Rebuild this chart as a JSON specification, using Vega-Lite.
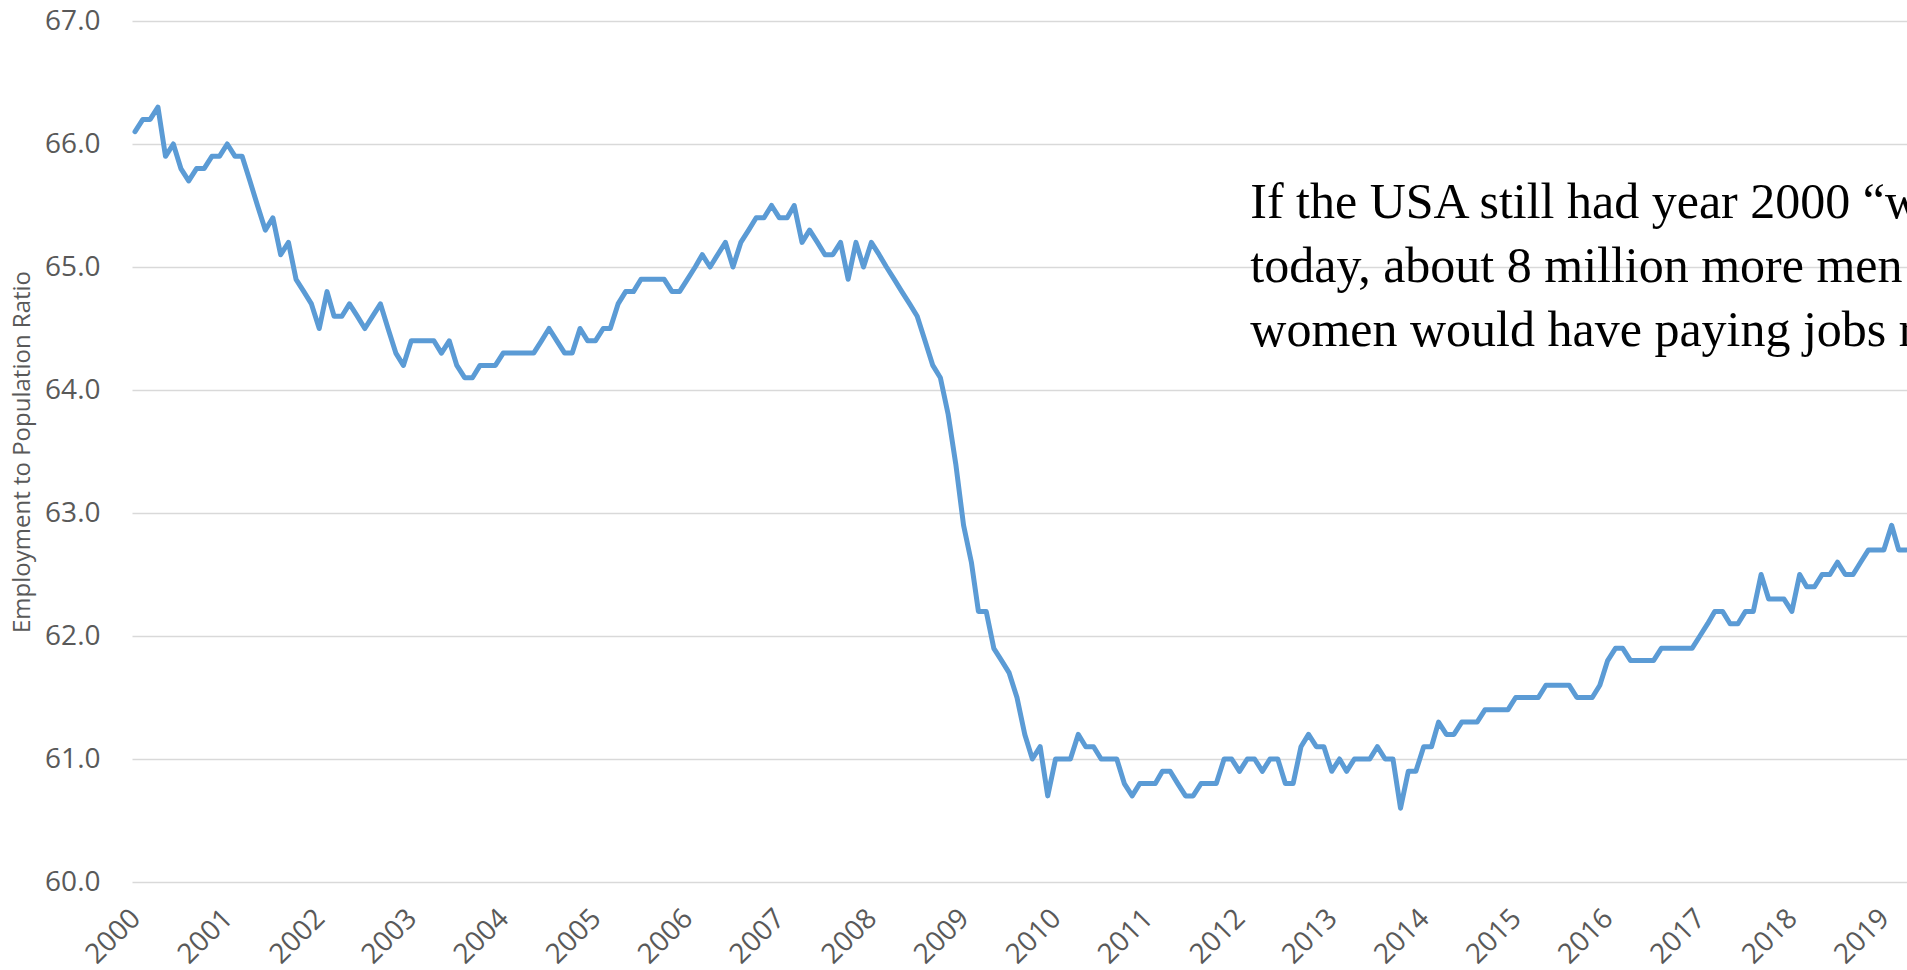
{
  "$schema": "https://vega.github.io/schema/vega-lite/v6.json",
  "autosize": {"type": "none"},
  "width": 1775,
  "height": 861,
  "padding": {"left": 132, "top": 21, "right": 0, "bottom": 88},
  "background": "white",
  "config": {"view": {"stroke": null}},
  "datasets": {
    "epop": [
      {"date":"2000-01-01","v":66.1},{"date":"2000-02-01","v":66.2},{"date":"2000-03-01","v":66.2},{"date":"2000-04-01","v":66.3},{"date":"2000-05-01","v":65.9},{"date":"2000-06-01","v":66.0},{"date":"2000-07-01","v":65.8},{"date":"2000-08-01","v":65.7},{"date":"2000-09-01","v":65.8},{"date":"2000-10-01","v":65.8},{"date":"2000-11-01","v":65.9},{"date":"2000-12-01","v":65.9},
      {"date":"2001-01-01","v":66.0},{"date":"2001-02-01","v":65.9},{"date":"2001-03-01","v":65.9},{"date":"2001-04-01","v":65.7},{"date":"2001-05-01","v":65.5},{"date":"2001-06-01","v":65.3},{"date":"2001-07-01","v":65.4},{"date":"2001-08-01","v":65.1},{"date":"2001-09-01","v":65.2},{"date":"2001-10-01","v":64.9},{"date":"2001-11-01","v":64.8},{"date":"2001-12-01","v":64.7},
      {"date":"2002-01-01","v":64.5},{"date":"2002-02-01","v":64.8},{"date":"2002-03-01","v":64.6},{"date":"2002-04-01","v":64.6},{"date":"2002-05-01","v":64.7},{"date":"2002-06-01","v":64.6},{"date":"2002-07-01","v":64.5},{"date":"2002-08-01","v":64.6},{"date":"2002-09-01","v":64.7},{"date":"2002-10-01","v":64.5},{"date":"2002-11-01","v":64.3},{"date":"2002-12-01","v":64.2},
      {"date":"2003-01-01","v":64.4},{"date":"2003-02-01","v":64.4},{"date":"2003-03-01","v":64.4},{"date":"2003-04-01","v":64.4},{"date":"2003-05-01","v":64.3},{"date":"2003-06-01","v":64.4},{"date":"2003-07-01","v":64.2},{"date":"2003-08-01","v":64.1},{"date":"2003-09-01","v":64.1},{"date":"2003-10-01","v":64.2},{"date":"2003-11-01","v":64.2},{"date":"2003-12-01","v":64.2},
      {"date":"2004-01-01","v":64.3},{"date":"2004-02-01","v":64.3},{"date":"2004-03-01","v":64.3},{"date":"2004-04-01","v":64.3},{"date":"2004-05-01","v":64.3},{"date":"2004-06-01","v":64.4},{"date":"2004-07-01","v":64.5},{"date":"2004-08-01","v":64.4},{"date":"2004-09-01","v":64.3},{"date":"2004-10-01","v":64.3},{"date":"2004-11-01","v":64.5},{"date":"2004-12-01","v":64.4},
      {"date":"2005-01-01","v":64.4},{"date":"2005-02-01","v":64.5},{"date":"2005-03-01","v":64.5},{"date":"2005-04-01","v":64.7},{"date":"2005-05-01","v":64.8},{"date":"2005-06-01","v":64.8},{"date":"2005-07-01","v":64.9},{"date":"2005-08-01","v":64.9},{"date":"2005-09-01","v":64.9},{"date":"2005-10-01","v":64.9},{"date":"2005-11-01","v":64.8},{"date":"2005-12-01","v":64.8},
      {"date":"2006-01-01","v":64.9},{"date":"2006-02-01","v":65.0},{"date":"2006-03-01","v":65.1},{"date":"2006-04-01","v":65.0},{"date":"2006-05-01","v":65.1},{"date":"2006-06-01","v":65.2},{"date":"2006-07-01","v":65.0},{"date":"2006-08-01","v":65.2},{"date":"2006-09-01","v":65.3},{"date":"2006-10-01","v":65.4},{"date":"2006-11-01","v":65.4},{"date":"2006-12-01","v":65.5},
      {"date":"2007-01-01","v":65.4},{"date":"2007-02-01","v":65.4},{"date":"2007-03-01","v":65.5},{"date":"2007-04-01","v":65.2},{"date":"2007-05-01","v":65.3},{"date":"2007-06-01","v":65.2},{"date":"2007-07-01","v":65.1},{"date":"2007-08-01","v":65.1},{"date":"2007-09-01","v":65.2},{"date":"2007-10-01","v":64.9},{"date":"2007-11-01","v":65.2},{"date":"2007-12-01","v":65.0},
      {"date":"2008-01-01","v":65.2},{"date":"2008-02-01","v":65.1},{"date":"2008-03-01","v":65.0},{"date":"2008-04-01","v":64.9},{"date":"2008-05-01","v":64.8},{"date":"2008-06-01","v":64.7},{"date":"2008-07-01","v":64.6},{"date":"2008-08-01","v":64.4},{"date":"2008-09-01","v":64.2},{"date":"2008-10-01","v":64.1},{"date":"2008-11-01","v":63.8},{"date":"2008-12-01","v":63.4},
      {"date":"2009-01-01","v":62.9},{"date":"2009-02-01","v":62.6},{"date":"2009-03-01","v":62.2},{"date":"2009-04-01","v":62.2},{"date":"2009-05-01","v":61.9},{"date":"2009-06-01","v":61.8},{"date":"2009-07-01","v":61.7},{"date":"2009-08-01","v":61.5},{"date":"2009-09-01","v":61.2},{"date":"2009-10-01","v":61.0},{"date":"2009-11-01","v":61.1},{"date":"2009-12-01","v":60.7},
      {"date":"2010-01-01","v":61.0},{"date":"2010-02-01","v":61.0},{"date":"2010-03-01","v":61.0},{"date":"2010-04-01","v":61.2},{"date":"2010-05-01","v":61.1},{"date":"2010-06-01","v":61.1},{"date":"2010-07-01","v":61.0},{"date":"2010-08-01","v":61.0},{"date":"2010-09-01","v":61.0},{"date":"2010-10-01","v":60.8},{"date":"2010-11-01","v":60.7},{"date":"2010-12-01","v":60.8},
      {"date":"2011-01-01","v":60.8},{"date":"2011-02-01","v":60.8},{"date":"2011-03-01","v":60.9},{"date":"2011-04-01","v":60.9},{"date":"2011-05-01","v":60.8},{"date":"2011-06-01","v":60.7},{"date":"2011-07-01","v":60.7},{"date":"2011-08-01","v":60.8},{"date":"2011-09-01","v":60.8},{"date":"2011-10-01","v":60.8},{"date":"2011-11-01","v":61.0},{"date":"2011-12-01","v":61.0},
      {"date":"2012-01-01","v":60.9},{"date":"2012-02-01","v":61.0},{"date":"2012-03-01","v":61.0},{"date":"2012-04-01","v":60.9},{"date":"2012-05-01","v":61.0},{"date":"2012-06-01","v":61.0},{"date":"2012-07-01","v":60.8},{"date":"2012-08-01","v":60.8},{"date":"2012-09-01","v":61.1},{"date":"2012-10-01","v":61.2},{"date":"2012-11-01","v":61.1},{"date":"2012-12-01","v":61.1},
      {"date":"2013-01-01","v":60.9},{"date":"2013-02-01","v":61.0},{"date":"2013-03-01","v":60.9},{"date":"2013-04-01","v":61.0},{"date":"2013-05-01","v":61.0},{"date":"2013-06-01","v":61.0},{"date":"2013-07-01","v":61.1},{"date":"2013-08-01","v":61.0},{"date":"2013-09-01","v":61.0},{"date":"2013-10-01","v":60.6},{"date":"2013-11-01","v":60.9},{"date":"2013-12-01","v":60.9},
      {"date":"2014-01-01","v":61.1},{"date":"2014-02-01","v":61.1},{"date":"2014-03-01","v":61.3},{"date":"2014-04-01","v":61.2},{"date":"2014-05-01","v":61.2},{"date":"2014-06-01","v":61.3},{"date":"2014-07-01","v":61.3},{"date":"2014-08-01","v":61.3},{"date":"2014-09-01","v":61.4},{"date":"2014-10-01","v":61.4},{"date":"2014-11-01","v":61.4},{"date":"2014-12-01","v":61.4},
      {"date":"2015-01-01","v":61.5},{"date":"2015-02-01","v":61.5},{"date":"2015-03-01","v":61.5},{"date":"2015-04-01","v":61.5},{"date":"2015-05-01","v":61.6},{"date":"2015-06-01","v":61.6},{"date":"2015-07-01","v":61.6},{"date":"2015-08-01","v":61.6},{"date":"2015-09-01","v":61.5},{"date":"2015-10-01","v":61.5},{"date":"2015-11-01","v":61.5},{"date":"2015-12-01","v":61.6},
      {"date":"2016-01-01","v":61.8},{"date":"2016-02-01","v":61.9},{"date":"2016-03-01","v":61.9},{"date":"2016-04-01","v":61.8},{"date":"2016-05-01","v":61.8},{"date":"2016-06-01","v":61.8},{"date":"2016-07-01","v":61.8},{"date":"2016-08-01","v":61.9},{"date":"2016-09-01","v":61.9},{"date":"2016-10-01","v":61.9},{"date":"2016-11-01","v":61.9},{"date":"2016-12-01","v":61.9},
      {"date":"2017-01-01","v":62.0},{"date":"2017-02-01","v":62.1},{"date":"2017-03-01","v":62.2},{"date":"2017-04-01","v":62.2},{"date":"2017-05-01","v":62.1},{"date":"2017-06-01","v":62.1},{"date":"2017-07-01","v":62.2},{"date":"2017-08-01","v":62.2},{"date":"2017-09-01","v":62.5},{"date":"2017-10-01","v":62.3},{"date":"2017-11-01","v":62.3},{"date":"2017-12-01","v":62.3},
      {"date":"2018-01-01","v":62.2},{"date":"2018-02-01","v":62.5},{"date":"2018-03-01","v":62.4},{"date":"2018-04-01","v":62.4},{"date":"2018-05-01","v":62.5},{"date":"2018-06-01","v":62.5},{"date":"2018-07-01","v":62.6},{"date":"2018-08-01","v":62.5},{"date":"2018-09-01","v":62.5},{"date":"2018-10-01","v":62.6},{"date":"2018-11-01","v":62.7},{"date":"2018-12-01","v":62.7},
      {"date":"2019-01-01","v":62.7},{"date":"2019-02-01","v":62.9},{"date":"2019-03-01","v":62.7},{"date":"2019-04-01","v":62.7}
    ],
    "note": [{"label": "note"}]
  },
  "layer": [
    {
      "data": {"name": "epop"},
      "mark": {"type": "line", "color": "#5B9BD5", "strokeWidth": 5, "strokeJoin": "round", "strokeCap": "round"},
      "encoding": {
        "x": {
          "field": "date", "type": "temporal",
          "scale": {"type": "utc", "domain": [{"year": 1999, "month": 12, "date": 20, "utc": true}, {"year": 2019, "month": 4, "date": 3, "utc": true}]},
          "axis": {
            "title": null, "format": "%Y", "labelAngle": -45, "grid": false, "domain": false, "ticks": false, "tickSize": 0,
            "labelPadding": 22, "labelOffset": -9, "labelFont": "Open Sans", "labelFontSize": 28, "labelColor": "#595959",
            "labelOverlap": false, "labelBound": false, "labelFlush": false,
            "values": [
              {"year": 2000, "utc": true},{"year": 2001, "utc": true},{"year": 2002, "utc": true},{"year": 2003, "utc": true},{"year": 2004, "utc": true},
              {"year": 2005, "utc": true},{"year": 2006, "utc": true},{"year": 2007, "utc": true},{"year": 2008, "utc": true},{"year": 2009, "utc": true},
              {"year": 2010, "utc": true},{"year": 2011, "utc": true},{"year": 2012, "utc": true},{"year": 2013, "utc": true},{"year": 2014, "utc": true},
              {"year": 2015, "utc": true},{"year": 2016, "utc": true},{"year": 2017, "utc": true},{"year": 2018, "utc": true},{"year": 2019, "utc": true}
            ]
          }
        },
        "y": {
          "field": "v", "type": "quantitative",
          "scale": {"domain": [60, 67], "nice": false, "zero": false},
          "axis": {
            "title": "Employment to Population Ratio", "titleFont": "Open Sans", "titleFontSize": 24, "titleFontWeight": "normal", "titleColor": "#595959", "titlePadding": 10,
            "values": [60, 61, 62, 63, 64, 65, 66, 67], "format": ".1f",
            "grid": true, "gridColor": "#D9D9D9", "gridWidth": 1.3,
            "domain": false, "ticks": false, "tickSize": 0, "labelPadding": 32,
            "labelFont": "Open Sans", "labelFontSize": 28, "labelColor": "#595959"
          }
        }
      }
    },
    {
      "data": {"name": "note"},
      "mark": {"type": "text", "font": "Liberation Serif", "fontSize": 50, "lineHeight": 64, "align": "left", "baseline": "alphabetic", "color": "#000000"},
      "encoding": {
        "x": {"datum": {"year": 2012, "month": 2, "date": 13, "utc": true}, "type": "temporal"},
        "y": {"datum": 65.40, "type": "quantitative"},
        "text": {"value": ["If the USA still had year 2000 “work rates”", "today, about 8 million more men and", "women would have paying jobs right now."]}
      }
    }
  ]
}
